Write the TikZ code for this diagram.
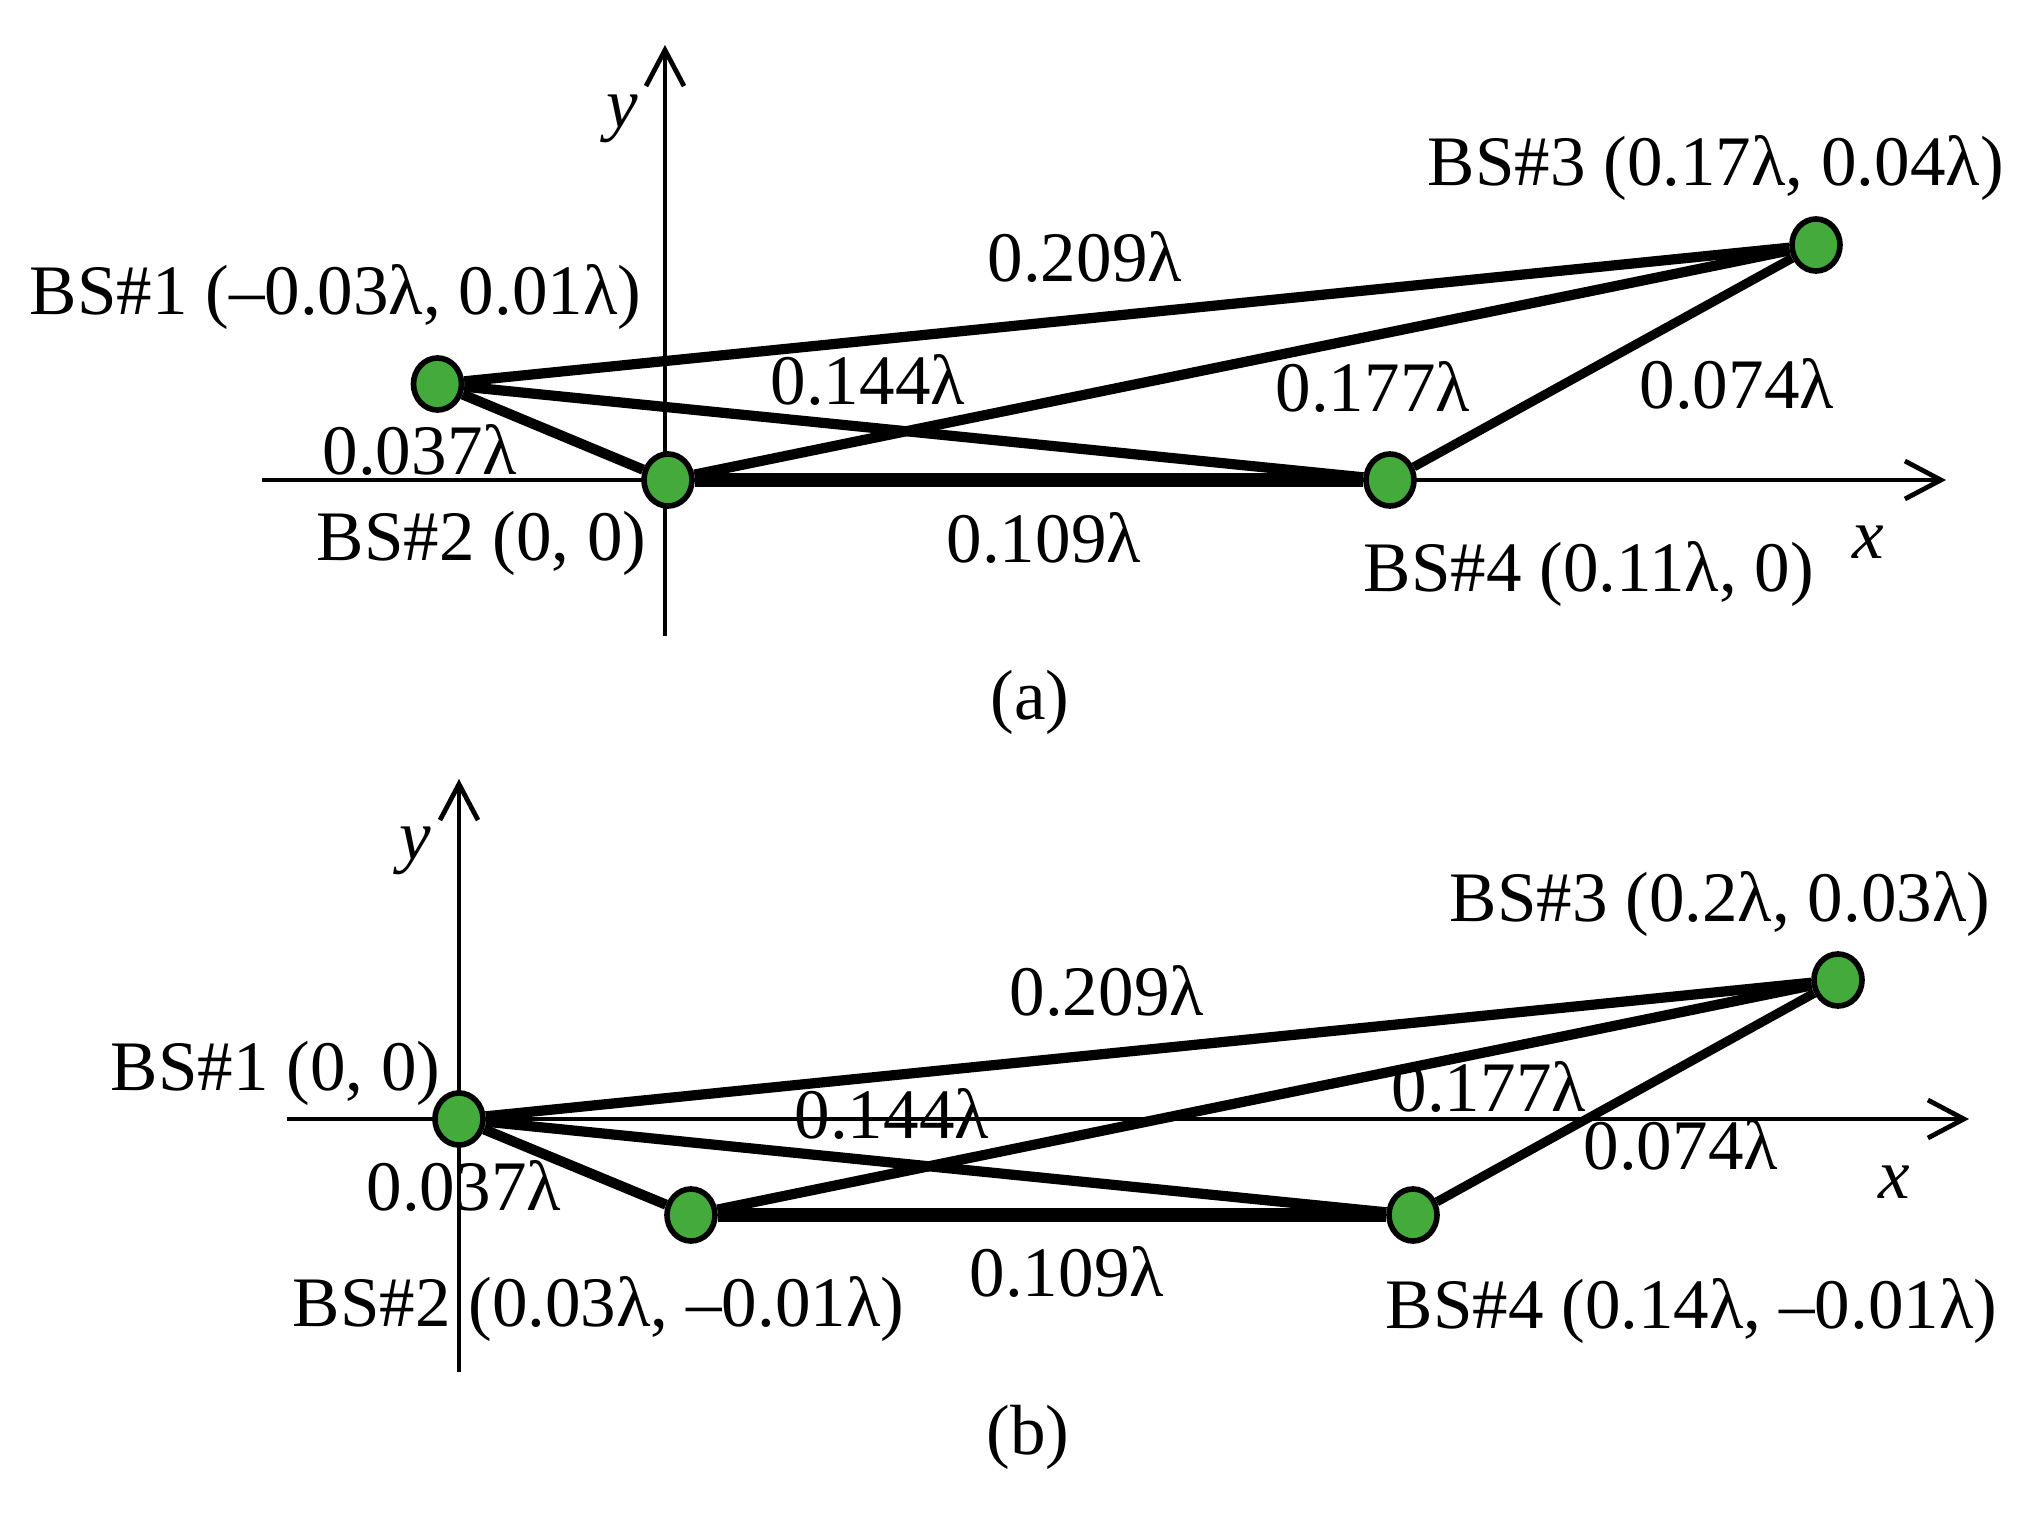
\documentclass[tikz,border=0pt]{standalone}
\usepackage{fontspec}
\setmainfont{Liberation Serif}
\usetikzlibrary{shapes.geometric,arrows.meta}
\definecolor{bsgreen}{RGB}{68,170,60}
\tikzset{
  bs/.style={ellipse,draw=black,line width=1.6pt,fill=bsgreen,minimum width=0.48cm,minimum height=0.52cm,inner sep=0pt},
  edge/.style={line width=2.9pt},
  edgethick/.style={line width=3.8pt},
  axis/.style={line width=1.35pt,-{Straight Barb[length=0.36cm,width=0.38cm,line width=1.35pt]}},
  lbl/.style={inner sep=0pt,anchor=base west,font=\fontsize{20.2}{24}\selectfont},
  lblc/.style={inner sep=0pt,anchor=base,font=\fontsize{20.2}{24}\selectfont},
}
\begin{document}
\begin{tikzpicture}[x=0.01cm,y=-0.01cm]
\useasboundingbox (0,0) rectangle (2032,1515);
% ---------- panel (a) ----------
\coordinate (ay0) at (665,636);
\coordinate (ay1) at (665,45);
\coordinate (ax0) at (262,480);
\coordinate (ax1) at (1946,480);
\draw[axis] (ay0) -- (ay1);
\draw[axis] (ax0) -- (ax1);
\node[bs] (a1) at (437.5,384) {};
\node[bs] (a2) at (668,480) {};
\node[bs] (a4) at (1390,480) {};
\node[bs] (a3) at (1816,245) {};
\draw[edge] (a1) -- (a3);
\draw[edge] (a1) -- (a4);
\draw[edge] (a1) -- (a2);
\draw[edge] (a2) -- (a3);
\draw[edgethick] (a2) -- (a4);
\draw[edge,line width=2.6pt] (a4) -- (a3);
\node[lblc] (aylab) at (622,127) {\itshape y};
\node[lblc] (axlab) at (1868,558) {\itshape x};
\node[lbl] (abs1) at (29,314) {BS\#1 (–0.03λ, 0.01λ)};
\node[lbl] (abs2) at (316,560) {BS\#2 (0, 0)};
\node[lbl] (abs3) at (1427,185) {BS\#3 (0.17λ, 0.04λ)};
\node[lbl] (abs4) at (1363,591) {BS\#4 (0.11λ, 0)};
\node[lbl] (ad13) at (987,281) {0.209λ};
\node[lbl] (ad14) at (770,404) {0.144λ};
\node[lbl] (ad12) at (322,474) {0.037λ};
\node[lbl] (ad23) at (1275,411) {0.177λ};
\node[lbl] (ad34) at (1639,408) {0.074λ};
\node[lbl] (ad24) at (946,562) {0.109λ};
\node[lblc] (acap) at (1030,719) {(a)};
% ---------- panel (b) ----------
\coordinate (by0) at (459,1372);
\coordinate (by1) at (459,779);
\coordinate (bx0) at (287,1119);
\coordinate (bx1) at (1969,1119);
\draw[axis] (by0) -- (by1);
\draw[axis] (bx0) -- (bx1);
\node[bs] (b1) at (459,1119) {};
\node[bs] (b2) at (691,1215) {};
\node[bs] (b4) at (1413,1215) {};
\node[bs] (b3) at (1838,980) {};
\draw[edge] (b1) -- (b3);
\draw[edge] (b1) -- (b4);
\draw[edge] (b1) -- (b2);
\draw[edge] (b2) -- (b3);
\draw[edgethick] (b2) -- (b4);
\draw[edge,line width=2.6pt] (b4) -- (b3);
\node[lblc] (bylab) at (415,859) {\itshape y};
\node[lblc] (bxlab) at (1894,1198) {\itshape x};
\node[lbl] (bbs1) at (110,1090) {BS\#1 (0, 0)};
\node[lbl] (bbs2) at (292,1326) {BS\#2 (0.03λ, –0.01λ)};
\node[lbl] (bbs3) at (1449,921) {BS\#3 (0.2λ, 0.03λ)};
\node[lbl] (bbs4) at (1385,1328) {BS\#4 (0.14λ, –0.01λ)};
\node[lbl] (bd13) at (1009,1015) {0.209λ};
\node[lbl] (bd14) at (794,1138) {0.144λ};
\node[lbl] (bd12) at (366,1210) {0.037λ};
\node[lbl] (bd23) at (1391,1111) {0.177λ};
\node[lbl] (bd34) at (1583,1169) {0.074λ};
\node[lbl] (bd24) at (969,1296) {0.109λ};
\node[lblc] (bcap) at (1028,1454) {(b)};
\end{tikzpicture}
\end{document}
